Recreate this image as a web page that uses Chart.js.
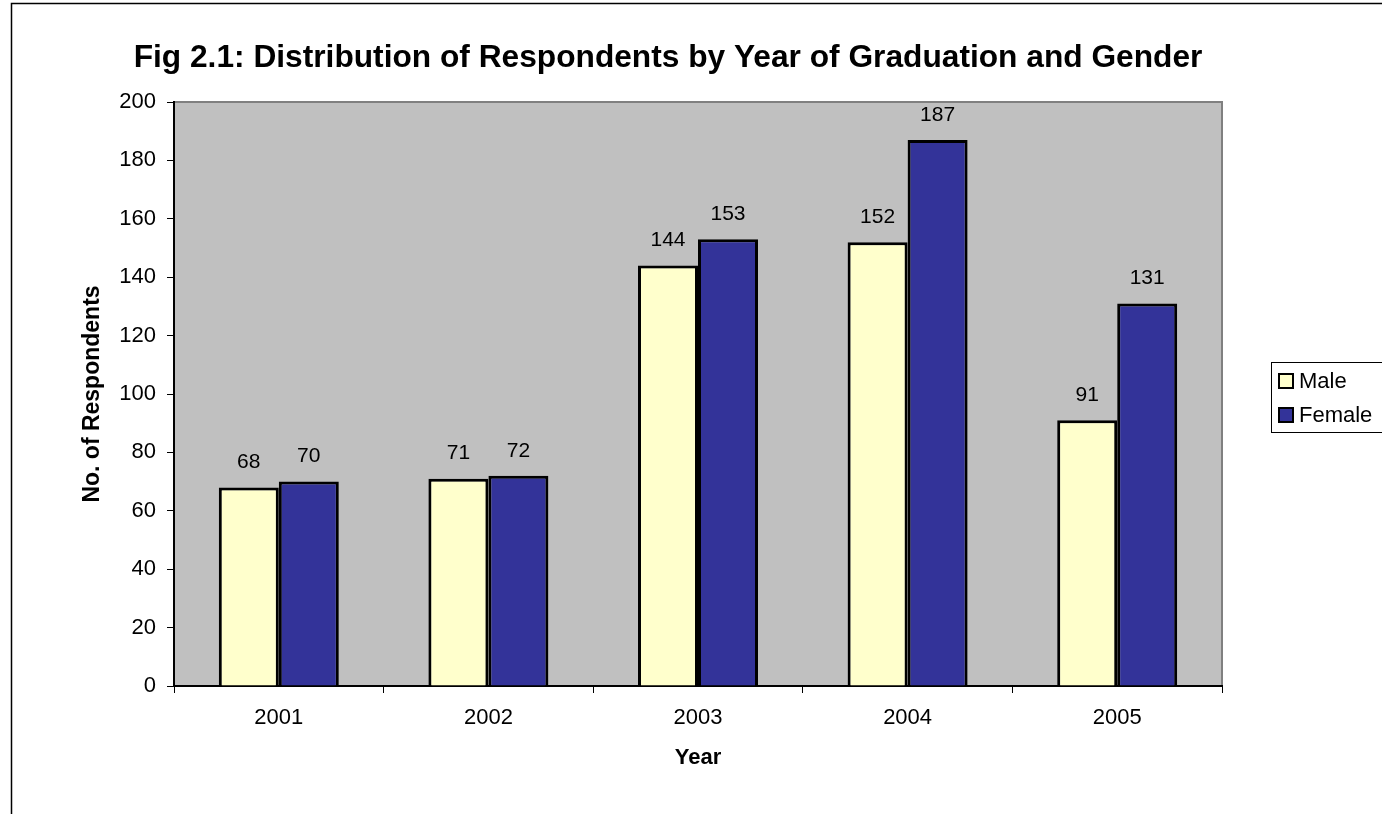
<!DOCTYPE html>
<html>
<head>
<meta charset="utf-8">
<script src="https://cdn.jsdelivr.net/npm/chart.js@4.4.1/dist/chart.umd.min.js"></script>
<style>
html,body{margin:0;padding:0;background:#fff;}
#wrap{width:1382px;height:814px;position:relative;}
</style>
</head>
<body>
<div id="wrap"><canvas id="c" width="1382" height="814"></canvas></div>
<script>
const years = ['2001', '2002', '2003', '2004', '2005'];
const maleValues = [68, 71, 144, 152, 91];
const femaleValues = [70, 72, 153, 187, 131];
const yTicks = [0, 20, 40, 60, 80, 100, 120, 140, 160, 180, 200];
const titleText = 'Fig 2.1: Distribution of Respondents by Year of Graduation and Gender';
const yTitle = 'No. of Respondents';
const xTitle = 'Year';
const seriesNames = ['Male', 'Female'];
const seriesColors = ['#FFFFCC', '#333399'];

const FONT = "'Liberation Sans', Arial, sans-serif";

const decor = {
  id: 'decor',
  beforeDraw(chart) {
    const {ctx, chartArea: a} = chart;
    ctx.save();
    ctx.fillStyle = '#fff';
    ctx.fillRect(0, 0, chart.width, chart.height);
    // outer frame
    ctx.strokeStyle = '#000';
    ctx.lineWidth = 1.5;
    ctx.beginPath();
    ctx.moveTo(11.5, chart.height);
    ctx.lineTo(11.5, 3.5);
    ctx.lineTo(chart.width, 3.5);
    ctx.stroke();
    // plot background
    ctx.fillStyle = '#C0C0C0';
    ctx.fillRect(a.left, a.top, a.right - a.left, a.bottom - a.top);
    // gray border top/right
    ctx.strokeStyle = '#808080';
    ctx.lineWidth = 2;
    ctx.beginPath();
    ctx.moveTo(a.left, a.top);
    ctx.lineTo(a.right, a.top);
    ctx.lineTo(a.right, a.bottom);
    ctx.stroke();
    // title
    ctx.fillStyle = '#000';
    ctx.font = 'bold 31.7px ' + FONT;
    ctx.textAlign = 'center';
    ctx.textBaseline = 'alphabetic';
    ctx.fillText(titleText, 668, 67);
    ctx.restore();
  },
  afterDatasetsDraw(chart) {
    const {ctx} = chart;
    ctx.save();
    ctx.fillStyle = '#000';
    ctx.font = '21px ' + FONT;
    ctx.textAlign = 'center';
    ctx.textBaseline = 'middle';
    chart.data.datasets.forEach((ds, i) => {
      chart.getDatasetMeta(i).data.forEach((bar, j) => {
        ctx.fillText(String(ds.data[j]), bar.x, bar.y - 25);
      });
    });
    // legend
    const lx = 1271, ly = 362;
    ctx.strokeStyle = '#000';
    ctx.lineWidth = 1;
    ctx.fillStyle = '#fff';
    ctx.fillRect(lx, ly, 130, 70);
    ctx.strokeRect(lx + 0.5, ly + 0.5, 130, 70);
    ctx.textAlign = 'left';
    ctx.font = '22px ' + FONT;
    seriesNames.forEach((n, i) => {
      const cy = 381 + i * 34;
      ctx.fillStyle = seriesColors[i];
      ctx.fillRect(1279, cy - 7, 14, 14);
      ctx.lineWidth = 2;
      ctx.strokeRect(1279, cy - 7, 14, 14);
      ctx.fillStyle = '#000';
      ctx.fillText(n, 1299, cy + 1);
    });
    ctx.restore();
  }
};

new Chart(document.getElementById('c'), {
  type: 'bar',
  data: {
    labels: years,
    datasets: [
      {label: seriesNames[0], data: maleValues, backgroundColor: seriesColors[0], borderColor: '#000', borderWidth: 3},
      {label: seriesNames[1], data: femaleValues, backgroundColor: seriesColors[1], borderColor: '#000', borderWidth: 3}
    ]
  },
  options: {
    responsive: false,
    animation: false,
    events: [],
    layout: {padding: {left: 0, top: 102, right: 160, bottom: 0}},
    datasets: {bar: {categoryPercentage: 0.5725, barPercentage: 1.0}},
    plugins: {legend: {display: false}, title: {display: false}, tooltip: {enabled: false}},
    scales: {
      x: {
        offset: true,
        afterFit(s) { s.height = 128; },
        grid: {display: true, drawOnChartArea: false, drawTicks: true, tickLength: 7, tickColor: '#000', offset: true},
        border: {display: true, color: '#000', width: 2},
        ticks: {color: '#000', font: {family: FONT, size: 22}, padding: 12, maxRotation: 0},
        title: {display: true, text: xTitle, color: '#000', font: {family: FONT, size: 22, weight: 'bold'}, padding: {top: 0, bottom: 43}}
      },
      y: {
        min: 0, max: 200,
        afterFit(s) { s.width = 174; },
        afterBuildTicks(s) { s.ticks = yTicks.map(v => ({value: v})); },
        grid: {display: true, drawOnChartArea: false, drawTicks: true, tickLength: 7, tickColor: '#000'},
        border: {display: true, color: '#000', width: 2},
        ticks: {color: '#000', font: {family: FONT, size: 22}, padding: 11},
        title: {display: true, text: yTitle, color: '#000', font: {family: FONT, size: 23, weight: 'bold'}, padding: {top: 79, bottom: 0}}
      }
    }
  },
  plugins: [decor]
});
</script>
</body>
</html>
